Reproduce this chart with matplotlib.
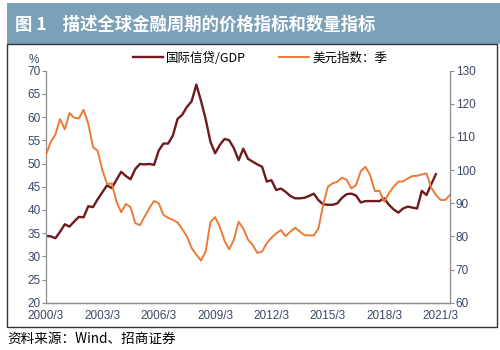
import matplotlib
matplotlib.use('Agg')
import numpy as np
import matplotlib.pyplot as plt
from matplotlib.patches import Rectangle

plt.rcParams['font.family'] = ['Liberation Sans', 'Noto Sans CJK SC', 'DejaVu Sans']

# quarterly data, 2000Q1 ...
credit_gdp = [34.4, 34.3, 33.9, 35.3, 36.9, 36.4, 37.5, 38.5, 38.4, 40.8,
              40.6, 42.3, 43.8, 45.3, 44.7, 46.5, 48.2, 47.3, 46.6, 48.8,
              49.9, 49.8, 49.9, 49.7, 52.8, 54.3, 54.3, 56.0, 59.6, 60.5,
              62.2, 63.4, 67.0, 63.5, 59.5, 54.7, 52.2, 54.0, 55.3, 55.0,
              53.3, 50.7, 53.2, 51.0, 50.4, 49.8, 49.3, 46.1, 46.4, 44.3,
              44.6, 43.9, 43.0, 42.5, 42.5, 42.6, 43.0, 43.5, 42.1, 41.2,
              41.1, 41.1, 41.4, 42.6, 43.4, 43.5, 43.1, 41.6, 41.9, 41.9,
              41.9, 41.9, 42.5, 41.1, 40.1, 39.4, 40.3, 40.7, 40.5, 40.3,
              44.1, 43.2, 45.5, 47.7]
usd_index = [104.6, 108.5, 110.8, 115.4, 112.3, 117.2, 115.8, 115.6, 118.2, 114.0,
             107.0, 105.8, 100.0, 95.8, 96.0, 90.5, 87.3, 89.8, 88.8, 84.0,
             83.4, 86.0, 88.5, 90.7, 90.0, 86.5, 85.6, 85.0, 84.2, 82.2,
             80.0, 76.5, 74.5, 72.7, 75.5, 84.3, 85.8, 82.9, 78.7, 76.1,
             79.0, 84.4, 82.4, 79.0, 77.4, 75.0, 75.4, 78.0, 79.6, 80.9,
             81.9, 80.1, 81.4, 82.6, 81.5, 80.4, 80.3, 80.3, 82.4, 89.5,
             95.0, 96.0, 96.5, 97.7, 97.1, 94.5, 95.5, 99.7, 101.0, 98.5,
             93.7, 93.7, 90.5, 93.0, 95.0, 96.5, 96.6, 97.5, 98.2, 98.3,
             98.7, 99.0, 94.7, 92.5, 91.0, 91.0, 92.5]
xtick_labels = ['2000/3', '2003/3', '2006/3', '2009/3', '2012/3', '2015/3', '2018/3', '2021/3']

dark_red = '#6e1a1f'
orange = '#ec7a35'
tick_color = '#3b4766'
spine_color = '#8c8c8c'
cjk = ['Noto Sans CJK SC', 'DejaVu Sans']

fig = plt.figure(figsize=(5, 3.5), dpi=100)

# title bar and frame
fig.patches.append(Rectangle((7 / 500, 1 - 44 / 350), 493 / 500, 41 / 350,
                             transform=fig.transFigure, facecolor='#7ba1b9',
                             edgecolor='none', zorder=-1))
fig.patches.append(Rectangle((7 / 500, 1 - 327 / 350), 490 / 500, 283 / 350,
                             transform=fig.transFigure, facecolor='none',
                             edgecolor='#333333', linewidth=1.0, zorder=-1))
fig.text(15 / 500, 1 - 25 / 350, '图 1    描述全球金融周期的价格指标和数量指标',
         color='white', fontsize=12.5, fontweight='bold', va='center', family=cjk)
fig.text(7 / 500, 1 - 339 / 350, '资料来源：Wind、招商证券', fontsize=9.8,
         va='center', family=cjk)

ax = fig.add_axes([46 / 500, 1 - 302.7 / 350, 404 / 500, 232 / 350])
ax2 = ax.twinx()

x = np.arange(len(usd_index))
l1, = ax.plot(np.arange(len(credit_gdp)), credit_gdp, color=dark_red, lw=1.7)
l2, = ax2.plot(x, usd_index, color=orange, lw=1.4)

ax.set_xlim(0, 86)
ax.set_ylim(20, 70)
ax2.set_ylim(60, 130)
ax.set_yticks(np.arange(20, 71, 5))
ax2.set_yticks(np.arange(60, 131, 10))
ax.set_xticks(np.arange(0, 85, 12))
ax.set_xticklabels(xtick_labels)

for a in (ax, ax2):
    a.patch.set_visible(False)
    a.spines['top'].set_visible(False)
    for s in ('left', 'right', 'bottom'):
        a.spines[s].set_color(spine_color)
        a.spines[s].set_linewidth(0.9)
    a.tick_params(colors=spine_color, labelcolor=tick_color, labelsize=8.5,
                  length=3, width=0.8)
ax.tick_params(axis='x', length=0, pad=5)
ax.tick_params(axis='y', pad=1)
ax2.tick_params(axis='y', pad=1)
ax.spines['right'].set_visible(False)
ax2.spines['left'].set_visible(False)

fig.text(34 / 500, 1 - 60 / 350, '%', fontsize=8.5, color=tick_color,
         ha='center', va='center')

fig.legend([l1, l2], ['国际信贷/GDP', '美元指数：季'], loc='center',
           bbox_to_anchor=(0.52, 1 - 58 / 350), ncol=2, frameon=False,
           handlelength=2.4, columnspacing=2.6, handletextpad=0.3,
           prop={'family': cjk, 'size': 9})

fig.savefig('out.png', dpi=100, facecolor='white')
